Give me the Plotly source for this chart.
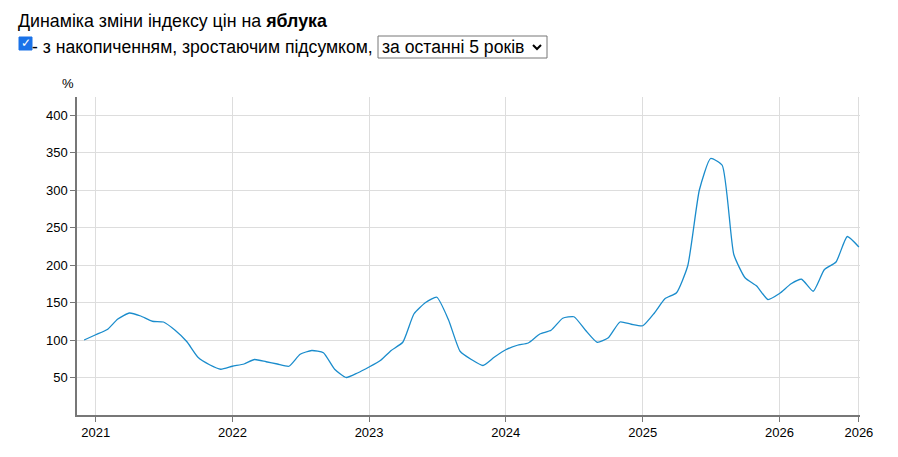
import plotly.graph_objects as go

# monthly index values, Dec 2020 .. Aug 2026
months = [f"{y}-{m:02d}-01" for y in range(2020, 2027) for m in range(1, 13)][11:11 + 69]
index_values = [
    100, 107, 114, 128, 136, 132, 125, 124, 113, 98, 77, 67,
    61, 65, 68, 74, 71, 68, 65, 81, 86, 83, 61, 50,
    56, 64, 73, 86, 97, 135, 150, 157, 127, 85, 74, 66,
    77, 87, 93, 96, 108, 113, 129, 131, 113, 97, 103, 124,
    121, 119, 136, 155, 163, 199, 300, 342, 333, 214, 183, 172,
    154, 162, 175, 181, 165, 194, 204, 238, 224,
]
tick_vals = ["2021-01-01", "2022-01-01", "2023-01-01", "2024-01-01",
             "2025-01-01", "2026-01-01", "2026-08-01"]
tick_text = ["2021", "2022", "2023", "2024", "2025", "2026", "2026"]
y_ticks = [50, 100, 150, 200, 250, 300, 350, 400]

# page has an 8px body margin; plot area on screen is x 77..860, y 97..415
OFF = 8
L, R, T, B = 77, 860, 97, 415
W, H = 898, 457


def px(x, y):
    # screen pixel -> paper coords
    return (x - L) / (R - L), (B - y) / (B - T)


fig = go.Figure()
fig.add_trace(go.Scatter(x=months, y=index_values, mode="lines",
                         line=dict(color="#1a8ccc", width=1.3, shape="spline", smoothing=0.5),
                         hoverinfo="x+y"))

fig.update_layout(
    width=W, height=H,
    margin=dict(l=L - OFF, r=W - (R - OFF), t=T - OFF, b=H - (B - OFF)),
    paper_bgcolor="white", plot_bgcolor="white",
    font=dict(family="Liberation Sans, Arial", size=13, color="#000"),
    showlegend=False,
    xaxis=dict(range=["2020-11-12", "2026-08-04"], tickvals=tick_vals, ticktext=tick_text,
               showgrid=True, gridcolor="#dddddd", showline=True, linecolor="#777",
               linewidth=1.5, ticks="outside", ticklen=5, tickcolor="#777", zeroline=False),
    yaxis=dict(range=[0, 424], tickvals=y_ticks, showgrid=True, gridcolor="#dddddd",
               showline=True, linecolor="#777", linewidth=1.5, ticks="outside", ticklen=5,
               tickcolor="#777", zeroline=False),
)


def label(text, x, y, size, anchor="left", color="#000"):
    ax, ay = px(x, y)
    fig.add_annotation(text=text, x=ax, y=ay, xref="paper", yref="paper", showarrow=False,
                       xanchor=anchor, yanchor="middle", font=dict(size=size, color=color))


def rect(x0, y0, x1, y1, **kw):
    a0, b0 = px(x0, y1)
    a1, b1 = px(x1, y0)
    fig.add_shape(type="rect", xref="paper", yref="paper", x0=a0, y0=b0, x1=a1, y1=b1, **kw)


label("Динаміка зміни індексу цін на <b>яблука</b>", 16, 21, 17.8)
rect(19, 37, 32, 50, fillcolor="#1a73e8", line=dict(color="#1a73e8", width=1))
label("✓", 25.5, 43.5, 12, anchor="center", color="white")
label("- з накопиченням, зростаючим підсумком,", 30, 47, 17.6)
rect(378, 36, 547, 58, fillcolor="rgba(0,0,0,0)", line=dict(color="#767676", width=1))
label("за останні 5 років", 380, 47, 17.6)
# dropdown chevron
p1, p2, p3 = px(533, 45), px(537, 49), px(541, 45)
fig.add_shape(type="path", xref="paper", yref="paper",
              path=f"M {p1[0]} {p1[1]} L {p2[0]} {p2[1]} L {p3[0]} {p3[1]}",
              line=dict(color="#000", width=2))
label("%", 68, 84, 13, anchor="center")

fig.write_html("out.html")
